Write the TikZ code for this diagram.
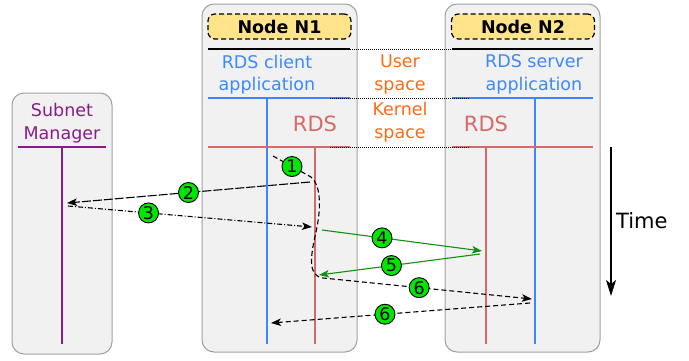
\documentclass[tikz,border=0pt]{standalone}
\usepackage{fontspec}
\setmainfont{DejaVu Sans}
\usetikzlibrary{arrows.meta,quotes}

\definecolor{boxgray}{HTML}{F1F1F1}
\definecolor{boxline}{HTML}{A0A0A0}
\definecolor{labelyellow}{HTML}{FFE48A}
\definecolor{appblue}{HTML}{3D88FF}
\definecolor{rdsred}{HTML}{D46A6A}
\definecolor{smpurple}{HTML}{8A1C8A}
\definecolor{spaceorange}{HTML}{FF6A14}
\definecolor{msggreen}{HTML}{119011}
\definecolor{numgreen}{HTML}{00E600}

\newcommand{\txtsize}{\fontsize{17.5}{22.5}\selectfont}
\newcommand{\bigsize}{\fontsize{21}{25}\selectfont}

\begin{document}
\begin{tikzpicture}[x=1pt,y=-1pt,
    host/.style={draw=boxline,fill=boxgray,line width=1pt,rounded corners=12pt},
    hostlabel/.style={draw,fill=labelyellow,rounded corners=7pt,dash pattern=on 5pt off 3pt,
      line width=1.2pt,minimum width=143pt,minimum height=25pt,inner sep=0pt,font=\bfseries\txtsize},
    layer/.style={align=center,inner sep=0pt,font=\txtsize},
    lane/.style={line width=1.3pt},
    num/.style={circle,draw=black,text=black,fill=numgreen,solid,line width=0.9pt,
      minimum size=20pt,inner sep=0pt,font=\txtsize},
    every edge quotes/.style={num},
    msg/.style={line width=1.1pt,-{Stealth[length=10pt,width=7.5pt,inset=2.5pt]}},
    gap/.style={dash pattern=on 1pt off 1pt,line width=0.8pt}]
  \useasboundingbox (0,0) rectangle (689,360);

  % hosts
  \draw[host] (12,93) rectangle (112,354);
  \draw[host] (202,4) rectangle (357,352);
  \draw[host] (445,4) rectangle (600,352);

  % subnet manager
  \node[layer,text=smpurple] (sm) at (62,123) {Subnet\\Manager};
  \draw[lane,smpurple] (18,147) -- (106,147);
  \draw[lane,smpurple] (62,147) -- (62,344);

  % node N1
  \node[hostlabel] (n1) at (279.5,26.5) {Node N1};
  \draw[lane] (208,49) -- (350,49);
  \node[layer,text=appblue] (app1) at (267,74.5) {RDS client\\application};
  \draw[lane,appblue] (208,98) -- (350,98);
  \draw[lane,appblue] (267,98) -- (267,344);
  \node[font=\bigsize,text=rdsred,inner sep=0pt,anchor=base] (rds1) at (315,131) {RDS};
  \draw[lane,rdsred] (208,147) -- (350,147);
  \draw[lane,rdsred] (315,147) -- (315,344);

  % node N2
  \node[hostlabel] (n2) at (523,26.5) {Node N2};
  \draw[lane] (452,49) -- (593,49);
  \node[layer,text=appblue] (app2) at (534,74.5) {RDS server\\application};
  \draw[lane,appblue] (452,98) -- (593,98);
  \draw[lane,appblue] (535,98) -- (535,344);
  \node[font=\bigsize,text=rdsred,inner sep=0pt,anchor=base] (rds2) at (486,131) {RDS};
  \draw[lane,rdsred] (452,147) -- (593,147);
  \draw[lane,rdsred] (486,147) -- (486,344);

  % user / kernel space
  \node[layer,text=spaceorange] (user) at (400,74.5) {User\\space};
  \node[layer,text=spaceorange] (kernel) at (400,122) {Kernel\\space};
  \foreach \y in {49,98,147}
    \draw[gap] (330,\y) -- (470,\y);

  % messages
  \path (273,156) coordinate (c1a)
        (311,177) coordinate (c1b)
        (323,278) coordinate (c6a)
        (532,299) coordinate (c6b)
        (310,182) coordinate (m2a)
        (67,203) coordinate (m2b)
        (68,206) coordinate (m3a)
        (312,227) coordinate (m3b)
        (322,230) coordinate (m4a)
        (482,251) coordinate (m4b)
        (480,254) coordinate (m5a)
        (319,275) coordinate (m5b)
        (530,303) coordinate (m6a)
        (271,323) coordinate (m6b);
  \draw[msg,dash pattern=on 5pt off 3pt] (c1a) -- node[num]{1} (c1b)
     .. controls (320,184) and (322,205) .. (316,232)
     .. controls (310,258) and (308,276) .. (c6a) -- node[num,pos=.46]{6} (c6b);
  \path[msg]
    (m2a) edge[dash pattern=on 9pt off 2pt, "2"] (m2b)
    (m3a) edge[dash pattern=on 5pt off 2pt on 1pt off 2pt, "3" {pos=.33}] (m3b)
    (m4a) edge[msggreen, "4" {pos=.375}] (m4b)
    (m5a) edge[msggreen, "5" {pos=.55}] (m5b)
    (m6a) edge[dash pattern=on 5pt off 3pt, "6" {pos=.56}] (m6b);

  % time
  \draw[line width=1.3pt,-{Stealth[length=16pt,width=10pt,inset=4pt]}] (611,147) coordinate (t0) -- (611,296) coordinate (t1);
  \node[font=\bigsize,anchor=west,inner sep=0pt] (time) at (616,221) {Time};
\end{tikzpicture}
\end{document}
